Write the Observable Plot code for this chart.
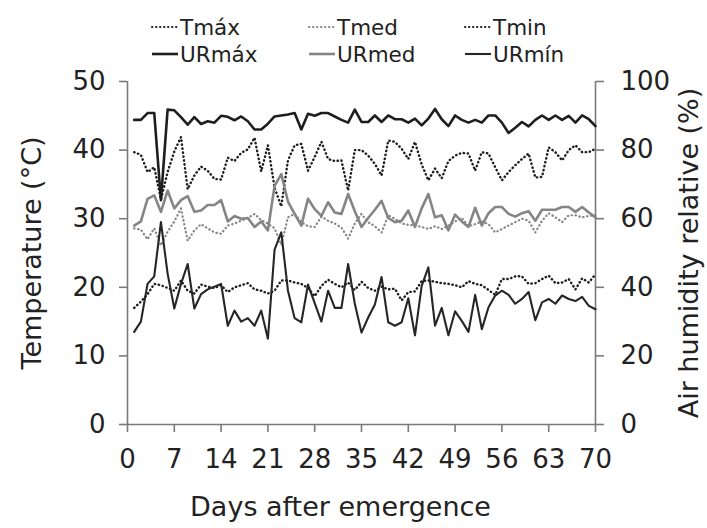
<!DOCTYPE html>
<html><head><meta charset="utf-8">
<script src="https://cdn.jsdelivr.net/npm/d3@7"></script>
<script src="https://cdn.jsdelivr.net/npm/@observablehq/plot@0.6"></script>
<style>
html,body{margin:0;padding:0;background:#fff;}
#wrap{position:relative;width:707px;height:528px;font-family:"DejaVu Sans",sans-serif;color:#222;}
#legend{position:relative;height:60px;width:707px;}
.item{position:absolute;display:flex;align-items:center;font-size:21.5px;height:26px;white-space:nowrap;}
.item svg{display:block;margin-right:1px;}
#chart svg{display:block;}
</style></head><body>
<div id="wrap"><div id="legend"></div><div id="chart"></div></div>
<script>
const days = [1,2,3,4,5,6,7,8,9,10,11,12,13,14,15,16,17,18,19,20,21,22,23,24,25,26,27,28,29,30,31,32,33,34,35,36,37,38,39,40,41,42,43,44,45,46,47,48,49,50,51,52,53,54,55,56,57,58,59,60,61,62,63,64,65,66,67,68,69,70];
const xTicks = [0,7,14,21,28,35,42,49,56,63,70];
const tempTicks = [0,10,20,30,40,50];
const seriesNames = ["Tmáx","Tmed","Tmin","URmáx","URmed","URmín"];

const tmax = [39.7,39.3,36.8,37.5,32.8,36.8,39.8,41.9,34.3,36.3,
37.6,37.0,35.8,35.7,38.9,38.4,39.6,40.1,41.8,36.9,
40.7,34.5,31.8,38.5,40.7,40.9,37.0,39.0,41.2,38.7,
38.4,38.5,34.1,40.0,40.0,39.2,38.0,36.3,41.4,41.2,
40.2,38.7,41.2,37.9,35.6,37.3,35.9,38.4,39.2,39.6,
39.5,37.0,39.7,39.5,37.5,35.6,36.8,37.8,38.7,39.5,
36.0,36.1,40.4,39.7,38.5,40.0,40.7,39.7,39.7,40.2];
const tmed = [28.6,28.4,27.0,28.6,26.1,28.1,29.6,31.5,26.8,28.3,
29.2,28.6,28.0,27.8,29.0,29.3,29.7,30.1,30.7,29.8,
29.3,28.6,26.2,30.2,30.7,29.5,28.9,28.8,30.3,29.7,
29.3,28.7,27.1,29.3,30.7,29.5,28.9,28.0,30.5,30.0,
29.3,29.1,29.0,28.8,28.5,28.9,28.5,29.0,29.6,30.1,
28.9,29.2,29.6,29.2,28.0,28.5,29.0,29.5,30.0,29.7,
28.0,29.7,30.8,30.2,29.5,30.5,30.5,30.2,30.4,30.5];
const tmin = [17.0,17.9,19.0,20.5,20.3,19.9,19.5,21.0,19.5,19.1,
20.4,20.1,19.9,20.3,19.3,20.0,20.3,20.6,19.7,19.5,
19.1,19.5,21.0,21.0,20.7,20.5,19.9,18.7,20.2,21.1,
20.5,20.0,20.7,19.6,20.8,19.9,19.5,20.1,19.7,19.8,
18.1,19.3,19.4,20.9,21.0,20.8,20.6,20.5,20.3,20.0,
20.9,20.5,20.3,19.6,18.9,21.2,21.2,21.6,21.6,20.5,
20.6,21.2,21.7,20.6,20.7,21.2,19.7,21.3,20.7,21.9];
const urmax = [88.8,88.8,90.8,90.8,65.4,91.8,91.6,89.6,87.4,89.6,
87.6,88.4,88.0,90.0,89.7,88.7,89.8,88.4,86.0,86.0,
87.7,89.8,90.1,90.4,90.8,86.0,90.6,90.0,90.8,90.8,
89.8,88.8,88.0,91.8,88.2,88.2,90.1,88.2,90.1,89.0,
89.0,88.0,89.2,87.2,89.2,92.0,89.0,87.0,90.1,88.8,
88.0,88.8,88.0,90.1,90.1,88.0,85.0,86.5,88.2,86.9,
88.8,90.1,88.8,90.1,88.8,90.0,88.0,90.1,89.0,87.0];
const urmed = [58,59.2,65.8,66.8,62,68.2,63,65.4,66.6,62,
62.4,64,64,65.4,59.2,60.8,60,60.2,57.6,59.2,
56.6,69.6,73,65,61.4,58,65.8,62.8,60.8,64.8,
61.8,61.4,67.2,62.2,57.6,60.2,62.6,65.2,60.2,59,
59.4,62.4,57.6,63,67.2,60.4,61,56.6,61.2,59.2,
57.6,63.2,58,61.6,63.4,63.4,61.4,60.6,61.6,62.2,
59.4,62.6,62.6,62.6,63.4,63.4,62,63.4,61.8,60.4];
const urmin = [27,30,41,43.2,59,44,33.8,41,46.8,33.8,
38,39.4,40.2,41,28.8,33.2,30,31,28.8,33.2,
25,51,56,39,31,29.8,40.8,35.4,30,39,
34,34,46.8,35.2,26.8,31.2,35,43,29.8,28.8,
29.8,36.8,26,40.4,45.8,28.8,34,26,33,30.2,
27,37.8,27.8,34.2,37.6,39,37.8,35.2,36.6,38.6,
30.4,35.6,36.6,35.2,37.6,36.6,36,37.2,34.6,33.6];

const DARK = "#1e1e1e", GRAY = "#858585", AXIS = "#7a7a7a";
const DOTS = "0.4,3.6";
const styles = {
  "Tmáx":  {stroke: DARK, strokeWidth: 2.4, strokeDasharray: DOTS, strokeLinecap: "round"},
  "Tmed":  {stroke: GRAY, strokeWidth: 2.2, strokeDasharray: DOTS, strokeLinecap: "round"},
  "Tmin":  {stroke: DARK, strokeWidth: 2.4, strokeDasharray: DOTS, strokeLinecap: "round"},
  "URmáx": {stroke: DARK, strokeWidth: 2.6},
  "URmed": {stroke: GRAY, strokeWidth: 2.6},
  "URmín": {stroke: "#262626", strokeWidth: 2.1}
};
const valueSets = {"Tmáx": tmax, "Tmed": tmed, "Tmin": tmin, "URmáx": urmax, "URmed": urmed, "URmín": urmin};
const isHumidity = n => n.startsWith("UR");

// legend (HTML, above the svg)
const legend = document.getElementById("legend");
const legCols = [150, 307, 463];
const legRows = [27, 54];
seriesNames.forEach((n, i) => {
  const s = styles[n];
  const div = document.createElement("div");
  div.className = "item";
  div.style.left = legCols[i % 3] + "px";
  div.style.top = (legRows[Math.floor(i / 3)] - 13) + "px";
  const dash = s.strokeDasharray ? `stroke-dasharray="${s.strokeDasharray}" stroke-linecap="round"` : "";
  div.innerHTML = `<svg width="29" height="10"><line x1="2" x2="28" y1="5" y2="5" stroke="${s.stroke}" stroke-width="${s.strokeDasharray ? 2 : s.strokeWidth}" ${dash}/></svg><span>${n}</span>`;
  legend.appendChild(div);
});

const lineMarks = seriesNames.map(n => {
  const vals = valueSets[n];
  const rows = days.map((d, i) => ({day: d, v: vals[i]}));
  return Plot.line(rows, {x: "day", y: d => isHumidity(n) ? d.v / 2 : d.v, ...styles[n]});
});

const chart = Plot.plot({
  width: 707, height: 468,
  marginLeft: 127, marginRight: 112, marginTop: 21, marginBottom: 104,
  x: {domain: [0, 70]},
  y: {domain: [0, 50]},
  style: {fontFamily: "DejaVu Sans, sans-serif", fontSize: "26px", color: "#222", background: "#fff", overflow: "visible"},
  marks: [
    Plot.ruleY([0], {stroke: AXIS, strokeWidth: 1.6}),
    Plot.ruleX([0], {stroke: AXIS, strokeWidth: 1.6}),
    Plot.ruleX([70], {stroke: AXIS, strokeWidth: 1.6}),
    Plot.axisX({ticks: xTicks, tickSize: 8, tickPadding: 17, label: null, stroke: AXIS, fill: "#222", strokeWidth: 1.6}),
    Plot.axisY({ticks: tempTicks, tickSize: 8, tickPadding: 14, label: null, stroke: AXIS, fill: "#222", strokeWidth: 1.6}),
    Plot.axisY({anchor: "right", ticks: tempTicks, tickFormat: d => String(d * 2), tickSize: 8, tickPadding: 17, label: null, stroke: AXIS, fill: "#222", strokeWidth: 1.6}),
    ...lineMarks,
    Plot.text(["Temperature (°C)"], {frameAnchor: "left", textAnchor: "middle", rotate: -90, dx: -95, fontSize: 27, fill: "#222"}),
    Plot.text(["Air humidity relative (%)"], {frameAnchor: "right", textAnchor: "middle", rotate: -90, dx: 94, fontSize: 27, fill: "#222"}),
    Plot.text(["Days after emergence"], {frameAnchor: "bottom", textAnchor: "middle", dy: 91, dx: -21, fontSize: 27, fill: "#222"})
  ]
});
document.getElementById("chart").appendChild(chart);
</script>
</body></html>
